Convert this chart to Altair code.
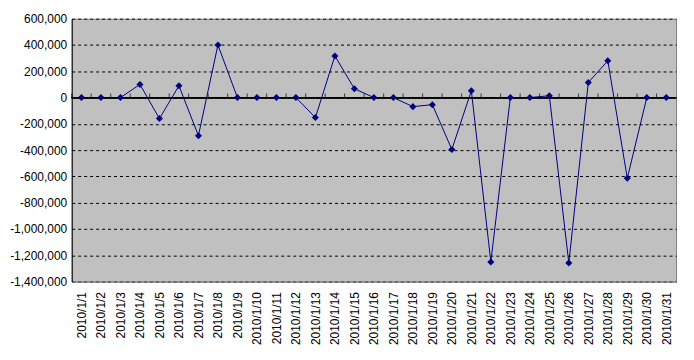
import altair as alt
import pandas as pd

dates = [f"2010/1/{d}" for d in range(1, 32)]
values = [0, 0, 0, 100000, -160000, 90000, -290000, 400000, 0, 0,
          0, 0, -152000, 317000, 67000, 0, 0, -69000, -54000, -395000,
          52000, -1251000, 0, 0, 14000, -1258000, 115000, 280000, -614000, 0, 0]
y_ticks = list(range(-1400000, 600001, 200000))

df = pd.DataFrame({"date": dates, "value": values, "order": list(range(31))})

W, H = 607, 264
step = W / len(dates)
FONT = "Liberation Sans"

x_axis = alt.Axis(labelAngle=270, labelFont=FONT, labelFontSize=12,
                  labelColor="black", ticks=False, labelPadding=10,
                  domainColor="#808080", grid=False)
y_scale = alt.Scale(domain=[-1400000, 600000], nice=False, zero=False)
y_axis = alt.Axis(values=y_ticks, format=",.0f",
                  labelExpr="replace(datum.label, '\u2212', '-')",
                  labelFont=FONT, labelFontSize=12, labelColor="black",
                  labelOverlap=False, ticks=False, labelPadding=5,
                  domainColor="black", grid=True, gridColor="black",
                  gridDash=[3, 3], gridOpacity=1)


def X():
    return alt.X("date:O", sort=dates, title=None,
                 scale=alt.Scale(type="point", padding=0.5), axis=x_axis)


base = alt.Chart(df)

line = base.mark_line(color="#000080", strokeWidth=1).encode(
    x=X(), y=alt.Y("value:Q", title=None, scale=y_scale, axis=y_axis), order="order:Q")

zero = base.mark_rule(color="black", strokeWidth=1).encode(
    y=alt.datum(0, scale=y_scale, axis=y_axis)
)

ticks = base.mark_tick(color="black", thickness=1, size=4, orient="vertical",
                       xOffset=-step / 2, yOffset=-2).encode(
    x=X(),
    y=alt.datum(0, scale=y_scale, axis=y_axis),
)

pts = base.mark_point(shape="diamond", filled=True, size=50, color="#000080", opacity=1).encode(
    x=X(), y=alt.Y("value:Q", title=None, scale=y_scale, axis=y_axis))

chart = alt.layer(line, zero, ticks, pts).properties(
    width=W, height=H,
    autosize=alt.AutoSizeParams(type="none"),
    padding={"left": 64, "top": 10, "right": 10, "bottom": 70},
    background="white",
).configure_view(fill="#C0C0C0", stroke="#808080", strokeWidth=1)

chart.save("out.html", embed_options={"renderer": "svg", "actions": False})
